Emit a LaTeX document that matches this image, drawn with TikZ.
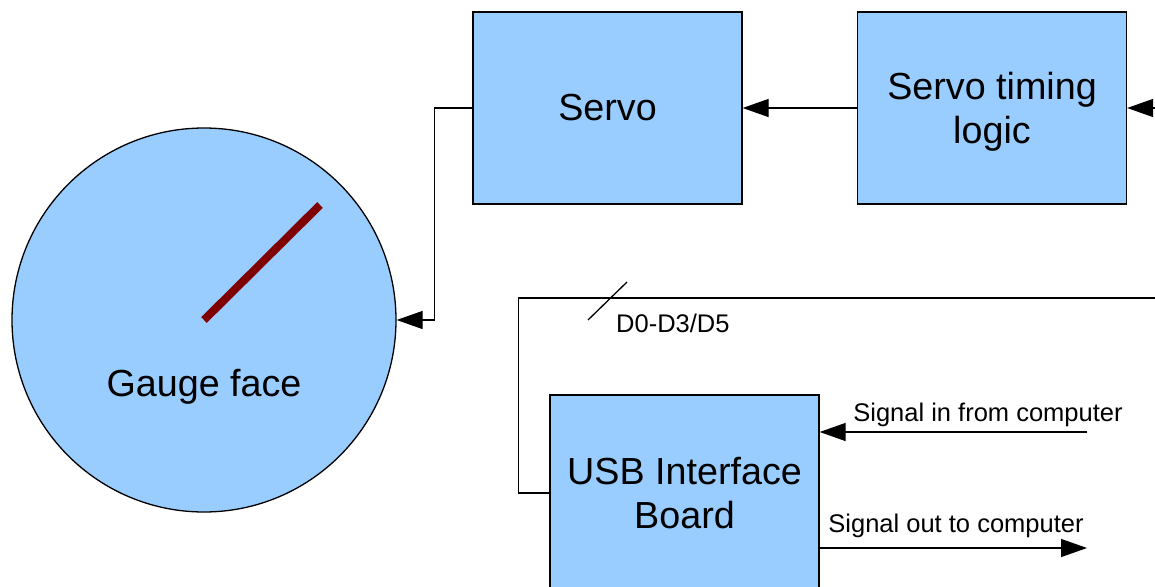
\documentclass[tikz,border=0pt]{standalone}
\usepackage{fontspec}
\setmainfont{Liberation Sans}
\usetikzlibrary{arrows.meta}
\definecolor{boxblue}{HTML}{99CCFF}
\definecolor{needlered}{HTML}{800000}
\tikzset{block/.style={draw,line width=1.3pt,fill=boxblue,minimum width=269pt,
  align=center,font=\fontsize{37.7}{44}\selectfont},
  arr/.style={line width=1.3pt,-{Triangle[length=26pt,width=18pt]}},
  small/.style={font=\fontsize{25.5}{30}\selectfont}}

\begin{document}
\begin{tikzpicture}[x=1pt,y=-1pt]
\useasboundingbox (0,0) rectangle (1155,586);
\node[block,minimum height=192pt] (servo) at (607.5,108) {Servo};
\node[block,minimum height=192pt,text depth=0pt] (timing) at (992,108) {Servo timing\\logic};
\node[block,minimum height=196pt] (usb) at (684.5,493) {USB Interface\\Board};
\node[draw,circle,line width=1.3pt,fill=boxblue,minimum size=384pt,inner sep=0pt] (gauge) at (204,320) {};
\node[font=\fontsize{37.7}{44}\selectfont] (gaugetxt) at (204,387) {Gauge face};
\draw[line width=8pt,needlered] (gauge.center) -- ++(116,-115);
\draw[arr] (timing.west) -- (servo.east);
\draw[arr] (servo.west) -- ++(-38,0) |- (gauge.east);
% data bus back to the timing logic
\coordinate (busR) at (1155.6,298);
\draw[arr] (usb.west) -- ++(-31,0) |- (busR) |- (timing.east);
\draw[line width=1.3pt] (588,320) -- (627,282);
\node[small,anchor=west,inner sep=0pt] (bus) at (616,323) {D0-D3/D5};
\coordinate (sin) at (1087,432);
\coordinate (sout) at (1087,548);
\draw[arr] (sin) -- (sin -| usb.east);
\draw[arr] (usb.east |- sout) -- (sout);
\node[small] (sintxt) at (988,415) {Signal in from computer};
\node[small] (souttxt) at (956,526) {Signal out to computer};
\end{tikzpicture}
\end{document}
